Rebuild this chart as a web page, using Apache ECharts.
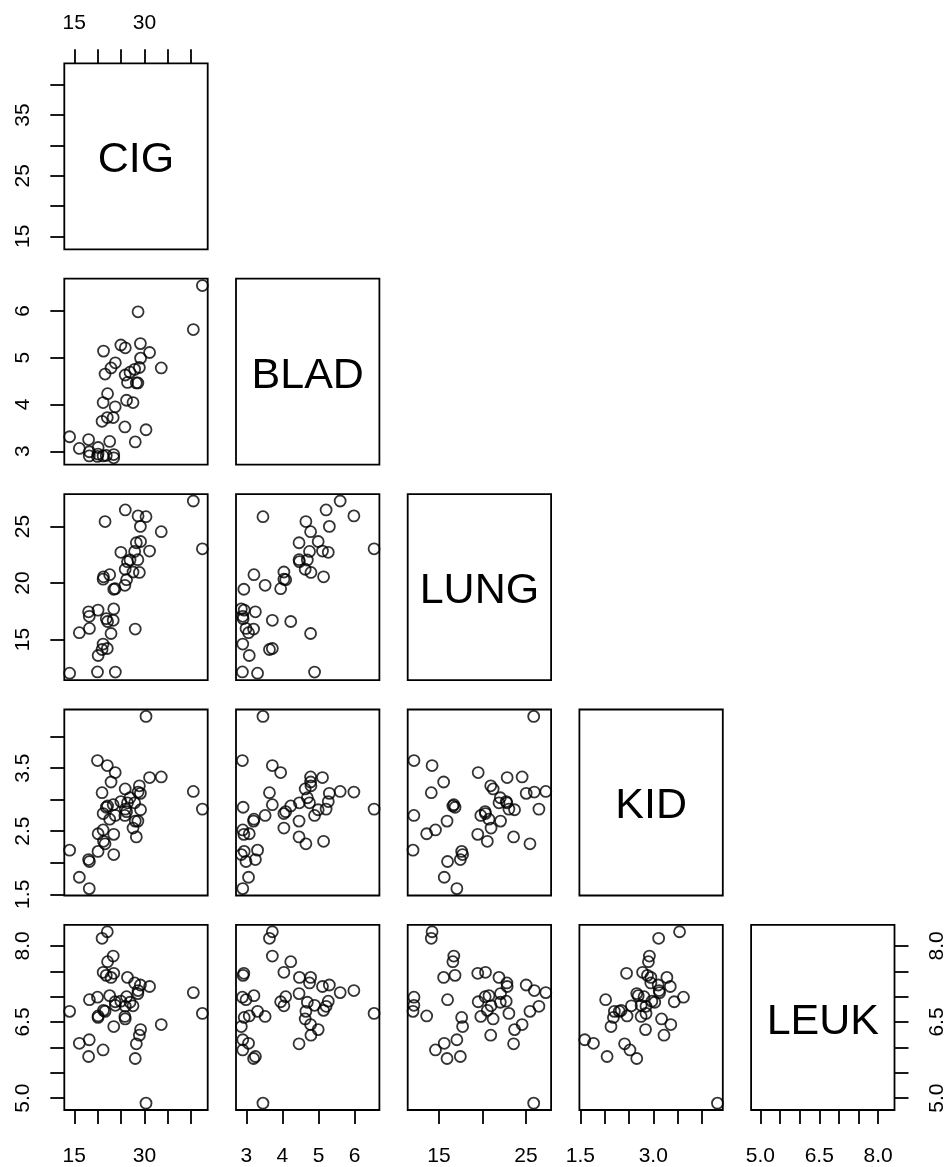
<!DOCTYPE html>
<html>
<head>
<meta charset="utf-8">
<script src="https://cdn.jsdelivr.net/npm/echarts@6/dist/echarts.min.js"></script>
<style>
html,body{margin:0;padding:0;background:#fff}
#main{width:950px;height:1167px}
</style>
</head>
<body>
<div id="main"></div>
<script>
var names = ['CIG', 'BLAD', 'LUNG', 'KID', 'LEUK'];

var cig  = [18.20,25.82,18.24,28.60,31.10,33.60,40.46,28.27,20.10,27.91,26.18,22.12,21.84,23.44,21.58,28.92,25.91,26.92,24.96,22.06,16.08,27.56,23.75,23.32,42.40,28.64,21.16,29.14,19.96,26.38,23.44,23.78,29.18,18.06,20.94,20.08,22.57,14.00,25.89,21.17,21.25,22.86,28.04,30.34];
var blad = [2.90,3.52,2.99,4.46,5.11,4.78,5.60,4.46,3.08,4.75,4.09,4.23,2.91,2.86,4.65,4.79,5.21,4.69,5.27,3.72,3.06,4.04,3.95,3.72,6.54,5.98,2.90,5.30,2.89,4.47,2.93,4.89,4.99,3.25,3.64,2.94,3.21,3.31,4.63,4.04,5.14,4.78,3.20,3.46];
var lung = [17.05,19.80,15.98,22.07,22.83,24.55,27.27,23.57,13.58,22.80,20.30,16.59,16.84,17.71,25.45,20.94,26.48,22.04,22.72,14.20,15.60,20.98,19.50,16.70,23.03,25.95,14.59,25.02,12.12,21.89,19.45,12.11,23.68,17.45,14.11,17.60,20.74,12.01,21.22,20.34,20.55,15.53,15.92,25.88];
var kid  = [1.59,2.75,2.02,2.66,3.35,3.36,3.13,2.41,2.46,2.95,2.81,2.90,2.88,2.13,2.30,3.22,2.85,3.03,2.97,3.54,1.77,2.55,3.43,2.92,2.85,3.12,2.52,3.10,3.62,2.95,2.45,2.75,2.84,2.05,3.11,2.18,2.69,2.20,3.17,2.78,2.34,3.28,2.66,4.32];
var leuk = [6.15,6.61,6.94,7.06,7.20,6.45,7.08,6.07,6.62,7.27,7.00,7.69,7.42,6.41,6.71,6.24,6.81,6.89,6.91,8.28,6.08,6.82,6.90,7.80,6.67,7.12,5.95,7.23,6.99,7.38,7.46,6.83,6.35,5.82,8.15,6.59,7.02,6.71,6.56,7.48,6.73,7.38,5.78,4.90];

var vars = [cig, blad, lung, kid, leuk];

var tickVals = [
  [15, 20, 25, 30, 35, 40],
  [3, 4, 5, 6],
  [15, 20, 25],
  [1.5, 2.0, 2.5, 3.0, 3.5, 4.0],
  [5.0, 5.5, 6.0, 6.5, 7.0, 7.5, 8.0]
];
var xLabelVals = [[15, 30], [3, 4, 5, 6], [15, 25], [1.5, 3.0], [5.0, 6.5, 8.0]];
var yLabelVals = [[15, 25, 35], [3, 4, 5, 6], [15, 20, 25], [1.5, 2.5, 3.5], [5.0, 6.5, 8.0]];
var decimals = [0, 0, 0, 1, 1];

// panel layout
var L0 = 64.3, PW = 143.4, PX = 171.7;
var T0 = 63.3, PH = 186, PY = 215.4;
var FONT = 'Liberation Sans, Arial, Helvetica, sans-serif';
var LW = 1.8;

// R style range: data range widened by 4%
function range(a) {
  var mn = Math.min.apply(null, a), mx = Math.max.apply(null, a);
  var d = (mx - mn) * 0.04;
  return [mn - d, mx + d];
}

function fmt(dec) {
  return function (v) { return Number(v).toFixed(dec); };
}

var grids = [], xAxes = [], yAxes = [], series = [], graphics = [];
var gi = 0;
for (var r = 0; r < 5; r++) {
  for (var c = 0; c <= r; c++) {
    var gx = L0 + PX * c, gy = T0 + PY * r;
    grids.push({
      left: gx, top: gy, width: PW, height: PH,
      show: true, borderColor: '#000', borderWidth: LW
    });
    var xr = range(vars[c]), yr = range(vars[r]);
    var showX = (r === 4) || (r === 0 && c === 0);
    var showY = (c === 0) || (r === 4 && c === 4);
    xAxes.push({
      type: 'value', gridIndex: gi, min: xr[0], max: xr[1],
      position: (r === 0 && c === 0) ? 'top' : 'bottom',
      axisLine: {show: false},
      splitLine: {show: false},
      axisTick: {show: showX, length: 14, lineStyle: {color: '#000', width: LW}, customValues: tickVals[c]},
      axisLabel: {
        show: showX, customValues: xLabelVals[c], color: '#000', fontSize: 21, fontFamily: FONT,
        margin: (r === 0) ? 30 : 36, formatter: fmt(decimals[c])
      }
    });
    yAxes.push({
      type: 'value', gridIndex: gi, min: yr[0], max: yr[1],
      position: (r === 4 && c === 4) ? 'right' : 'left',
      axisLine: {show: false},
      splitLine: {show: false},
      axisTick: {show: showY, length: 14, lineStyle: {color: '#000', width: LW}, customValues: tickVals[r]},
      axisLabel: {
        show: showY, customValues: yLabelVals[r], color: '#000', fontSize: 21, fontFamily: FONT,
        rotate: 90, margin: (c === 4) ? 32 : 31, formatter: fmt(decimals[r])
      }
    });
    if (r === c) {
      graphics.push({
        type: 'text', x: gx + PW / 2, y: gy + PH / 2 + 4,
        style: {text: names[r], fill: '#000', font: '43px ' + FONT, align: 'center', verticalAlign: 'middle'}
      });
    } else {
      var pts = [];
      for (var k = 0; k < vars[c].length; k++) pts.push([vars[c][k], vars[r][k]]);
      series.push({
        type: 'scatter', xAxisIndex: gi, yAxisIndex: gi, data: pts,
        symbol: 'circle', symbolSize: 11,
        itemStyle: {color: 'rgba(0,0,0,0)', borderColor: '#000', borderWidth: LW},
        silent: true
      });
    }
    gi++;
  }
}

var chart = echarts.init(document.getElementById('main'));
chart.setOption({
  animation: false,
  backgroundColor: '#fff',
  grid: grids,
  xAxis: xAxes,
  yAxis: yAxes,
  series: series,
  graphic: graphics
});
</script>
</body>
</html>
